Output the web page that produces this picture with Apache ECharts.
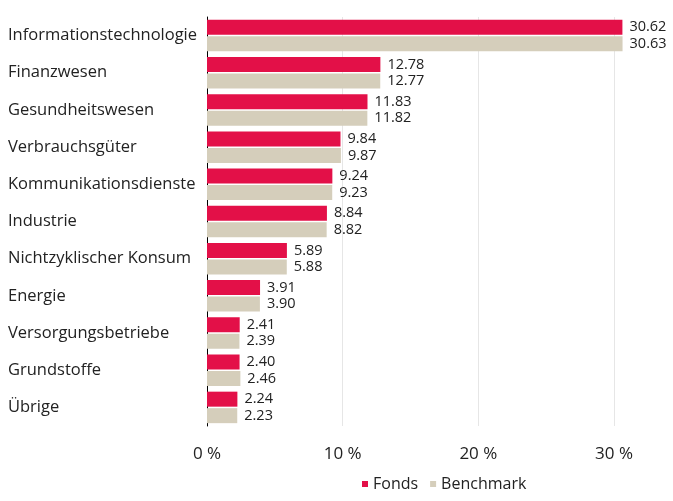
<!DOCTYPE html>
<html>
<head>
<meta charset="utf-8">
<script src="https://cdn.jsdelivr.net/npm/echarts@6/dist/echarts.min.js"></script>
<style>
  html, body { margin: 0; padding: 0; background: #fff; }
  #chart { width: 673px; height: 501px; }
</style>
</head>
<body>
<div id="chart"></div>
<script>
var categories = ['Informationstechnologie', 'Finanzwesen', 'Gesundheitswesen', 'Verbrauchsgüter',
  'Kommunikationsdienste', 'Industrie', 'Nichtzyklischer Konsum', 'Energie',
  'Versorgungsbetriebe', 'Grundstoffe', 'Übrige'];
var fonds = [30.62, 12.78, 11.83, 9.84, 9.24, 8.84, 5.89, 3.91, 2.41, 2.40, 2.24];
var benchmark = [30.63, 12.77, 11.82, 9.87, 9.23, 8.82, 5.88, 3.90, 2.39, 2.46, 2.23];
var xTicks = [0, 10, 20, 30];

var font = '"Open Sans", "Noto Sans", sans-serif';
var chart = echarts.init(document.getElementById('chart'));

function labelCfg() {
  return {
    show: true,
    position: 'right',
    distance: 7,
    color: '#222',
    fontFamily: font,
    fontSize: 14.5,
    formatter: function (p) { return p.value.toFixed(2); }
  };
}

chart.setOption({
  animation: false,
  textStyle: { fontFamily: font },
  legend: {
    bottom: 4,
    left: 357,
    itemWidth: 6,
    itemHeight: 6,
    itemGap: 12,
    icon: 'rect',
    textStyle: { fontSize: 16, color: '#222', fontFamily: font },
    data: ['Fonds', 'Benchmark']
  },
  grid: { left: 207, right: 59, top: 17, bottom: 75 },
  xAxis: {
    type: 'value',
    min: 0,
    max: 30,
    interval: 10,
    axisLine: { show: false },
    axisTick: { show: false },
    splitLine: { lineStyle: { color: '#e6e6e6', width: 1 } },
    axisLabel: {
      margin: 20,
      color: '#222',
      fontSize: 17,
      fontFamily: font,
      formatter: function (v) { return xTicks.indexOf(v) >= 0 ? v + ' %' : ''; }
    }
  },
  yAxis: {
    type: 'category',
    inverse: true,
    data: categories,
    axisLine: { show: true, lineStyle: { color: '#000', width: 1 } },
    axisTick: { show: false },
    axisLabel: {
      color: '#222',
      fontSize: 16.5,
      fontFamily: font,
      align: 'left',
      margin: 199
    }
  },
  series: [
    {
      name: 'Fonds',
      type: 'bar',
      data: fonds,
      clip: false,
      barWidth: 15,
      barGap: '10%',
      itemStyle: { color: '#e31048' },
      label: labelCfg()
    },
    {
      name: 'Benchmark',
      type: 'bar',
      data: benchmark,
      clip: false,
      barWidth: 15,
      itemStyle: { color: '#d5cebb' },
      label: labelCfg()
    }
  ]
});
</script>
</body>
</html>
